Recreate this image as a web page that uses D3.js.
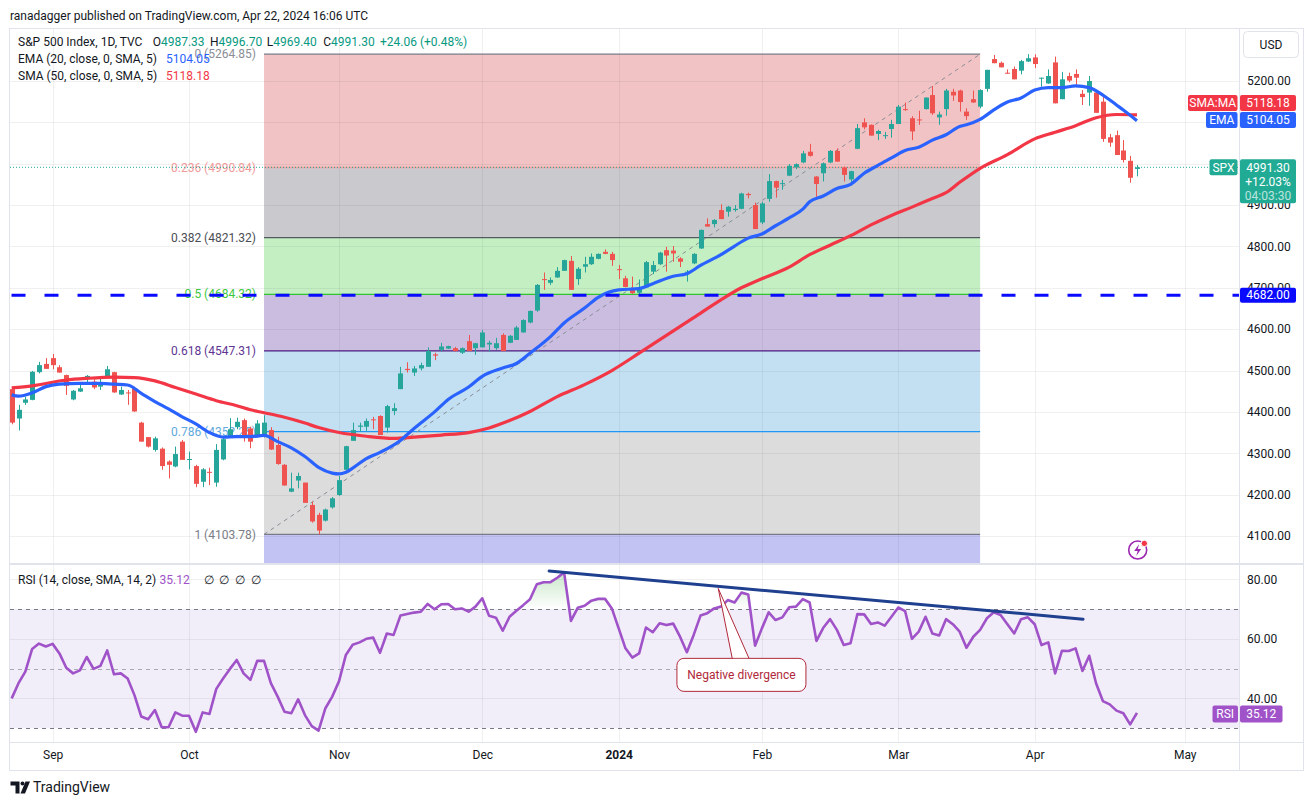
<!DOCTYPE html>
<html><head><meta charset="utf-8">
<script src="https://cdn.jsdelivr.net/npm/d3@7"></script>
<style>
body{margin:0;background:#fff;}
svg{display:block;font-family:Roboto,"Liberation Sans",sans-serif;}
</style>
</head><body>
<svg id="c" width="1313" height="805"></svg>
<script>
// ---------------- DATA ----------------
const opens = [4455,4384,4422,4429,4496,4516,4530,4508,4489,4430,
4449,4479,4473,4461,4484,4496,4442,4447,4457,4374,
4339,4308,4311,4280,4268,4328,4284,4269,4231,4255,
4229,4285,4340,4363,4380,4360,4340,4340,4356,4320,
4272,4207,4234,4229,4175,4151,4137,4169,4199,4260,
4330,4364,4364,4382,4390,4362,4402,4455,4504,4495,
4505,4509,4539,4550,4553,4554,4543,4571,4554,4556,
4563,4554,4586,4567,4574,4592,4616,4645,4721,4712,
4725,4741,4765,4721,4751,4757,4770,4787,4782,4745,
4723,4699,4688,4701,4739,4757,4791,4790,4771,4737,
4759,4795,4854,4854,4888,4884,4888,4891,4927,4900,
4858,4915,4958,4951,4971,4991,5003,5029,4969,4977,
5003,5031,4991,4962,5036,5100,5094,5072,5068,5084,
5096,5132,5110,5107,5132,5166,5112,5132,5174,5177,
5126,5156,5138,5181,5253,5244,5220,5229,5225,5247,
5257,5206,5194,5245,5156,5212,5217,5169,5172,5172,
5150,5064,5069,5032,5007,4987.33];
const highs = [4458,4417,4437,4499,4521,4530,4540,4513,4490,4453,
4469,4489,4479,4485,4511,4497,4461,4453,4461,4376,
4339,4340,4314,4283,4316,4332,4304,4272,4264,4265,
4322,4340,4385,4386,4384,4364,4380,4392,4363,4340,
4274,4253,4253,4229,4183,4156,4166,4194,4245,4318,
4374,4374,4384,4388,4392,4417,4421,4509,4520,4511,
4519,4556,4543,4567,4560,4557,4556,4586,4567,4598,
4572,4579,4590,4586,4608,4624,4645,4709,4737,4725,
4750,4768,4777,4750,4775,4783,4783,4793,4787,4755,
4729,4727,4720,4765,4765,4787,4799,4801,4774,4743,
4784,4841,4868,4866,4902,4898,4900,4930,4930,4906,
4908,4975,4959,4961,4999,5001,5031,5048,4970,5003,
5033,5037,4993,4983,5096,5110,5095,5082,5077,5106,
5142,5148,5115,5128,5160,5188,5126,5181,5181,5179,
5134,5177,5180,5227,5263,5247,5228,5235,5251,5264.85,
5264.5,5208,5228,5259,5222,5220,5228,5178,5212,5172,
5166,5072,5080,5057,5019,4996.70];
const lows = [4370,4355,4417,4428,4493,4504,4503,4495,4441,4428,
4448,4471,4455,4453,4483,4446,4441,4417,4400,4328,
4314,4304,4260,4239,4266,4284,4261,4218,4218,4223,
4219,4283,4338,4358,4328,4312,4338,4338,4308,4272,
4222,4206,4215,4180,4132,4103.78,4135,4166,4197,4259,
4330,4352,4354,4358,4344,4350,4392,4455,4495,4487,
4500,4509,4525,4546,4552,4546,4540,4547,4538,4556,
4546,4550,4547,4566,4574,4592,4614,4642,4695,4707,
4724,4741,4695,4707,4737,4755,4769,4781,4753,4721,
4701,4685,4685,4700,4733,4755,4739,4763,4750,4715,
4757,4794,4848,4846,4866,4872,4884,4890,4916,4842,
4854,4908,4918,4937,4970,4987,5001,5017,4920,4957,
5001,5005,4957,4947,5035,5083,5068,5057,5060,5063,
5096,5128,5057,5094,5131,5118,5094,5116,5152,5126,
5106,5147,5134,5174,5243,5233,5218,5204,5216,5246,
5231,5186,5193,5146,5156,5197,5185,5142,5140,5123,
5053,5041,5021,5003,4954,4969.40];
const closes = [4374,4405,4430,4497,4513,4504,4513,4495,4463,4451,
4457,4487,4459,4469,4503,4447,4453,4445,4401,4328,
4316,4336,4269,4272,4298,4284,4286,4226,4261,4254,
4308,4334,4358,4376,4344,4328,4372,4374,4309,4274,
4222,4215,4245,4180,4135,4113,4164,4191,4235,4317,
4356,4367,4378,4380,4344,4414,4409,4493,4501,4505,
4513,4547,4536,4558,4559,4547,4554,4547,4566,4592,
4567,4566,4547,4584,4604,4622,4644,4707,4719,4719,
4741,4767,4695,4746,4757,4775,4782,4782,4767,4743,
4702,4687,4699,4762,4755,4785,4778,4783,4763,4739,
4782,4840,4848,4864,4866,4896,4891,4928,4924,4842,
4904,4958,4942,4953,4995,4999,5025,5019,4951,5001,
5031,5005,4973,4982,5086,5088,5068,5079,5069,5096,
5138,5130,5078,5106,5160,5122,5119,5177,5165,5149,
5115,5148,5178,5227,5243,5233,5218,5204,5248,5255,
5241,5208,5212,5146,5204,5201,5208,5161,5200,5123,
5060,5051,5021,5009,4966,4991.30];

// EMA 20 / SMA 50 at sample bars
const emaBars   = [0,1,3,5,7,10,13,15,17,19,21,23,25,27,29,31,33,35,37,39,41,43,45,47,48,49,50,52,54,57,59,62,64,67,69,72,74,76,79,81,84,86,89,92,94,97,99,101,104,106,108,110,112,114,116,117,119,121,123,125,127,129,131,133,135,137,139,140,142,144,146,148,150,152,154,156,158,160,162,163,165];
const emaValues = [4441,4438,4446,4461,4467,4469,4469,4467,4465,4445,4425,4407,4388,4371,4350,4339,4340,4340,4343,4328,4313,4292,4266,4252,4250,4254,4264,4287,4302,4331,4360,4400,4430,4460,4486,4506,4517,4542,4582,4615,4651,4677,4695,4698,4710,4728,4734,4754,4780,4801,4820,4830,4850,4869,4890,4908,4922,4940,4950,4977,4996,5014,5032,5040,5057,5070,5090,5094,5107,5130,5149,5159,5178,5184,5184,5188,5184,5166,5142,5130,5104.05];
const smaBars   = [0,3,8,11,15,18,21,24,27,30,33,35,37,40,43,45,48,52,56,59,63,67,70,73,76,80,84,88,92,96,100,104,107,110,114,117,120,123,126,129,132,135,137,139,142,146,150,153,156,159,162,165];
const smaValues = [4458,4463,4477,4481,4484,4483,4475,4459,4443,4427,4415,4405,4398,4387,4373,4362,4350,4341,4336,4339,4344,4350,4361,4379,4401,4437,4466,4500,4542,4585,4628,4671,4700,4722,4750,4780,4803,4826,4852,4875,4895,4916,4930,4955,4989,5022,5060,5076,5092,5111,5119,5118.18];

const rsiValues = [40.0,45.1,49.0,56.6,58.4,57.4,58.3,55.1,50.3,48.4,
49.4,53.9,49.9,50.9,56.1,48.1,48.4,46.7,41.1,33.9,
33.0,36.1,30.3,30.3,35.3,34.2,34.2,28.8,35.3,34.8,
43.2,46.7,49.9,52.9,48.4,46.2,52.6,52.6,45.1,40.6,
35.5,35.0,39.7,34.4,30.7,29.2,36.7,40.6,45.8,54.6,
58.0,58.8,60.0,60.4,55.3,61.8,61.3,67.8,68.3,68.8,
69.1,71.7,69.9,71.6,71.7,69.9,70.2,69.1,70.8,73.6,
67.7,67.1,62.7,67.4,69.4,71.3,73.3,78.3,79.0,79.0,
80.5,82.3,66.0,70.4,71.1,72.8,73.4,73.4,70.2,63.5,
56.8,53.7,55.1,63.8,62.2,65.2,64.6,65.1,60.7,55.5,
61.3,67.8,68.6,70.2,70.8,73.0,72.2,75.5,74.9,57.7,
63.5,68.9,66.3,67.2,70.6,70.8,73.3,72.2,59.3,63.7,
66.6,63.0,57.9,58.5,68.3,68.2,65.0,65.5,64.4,67.4,
70.5,69.3,60.0,62.4,67.4,61.8,61.1,66.6,64.9,62.4,
57.0,60.7,63.0,66.9,68.9,68.0,64.9,61.8,66.6,67.2,
64.9,57.9,58.8,48.4,56.0,55.9,56.8,49.2,54.3,45.1,
39.1,38.0,35.9,35.0,31.3,35.12];

const monthLabels = ["Sep","Oct","Nov","Dec","2024","Feb","Mar","Apr","May"];
const monthBars   = [6,26,48,69,89,110,130,150,172];
const priceTicks  = [4100,4200,4300,4400,4500,4600,4700,4800,4900,5000,5100,5200];
const priceTickLabels = [4100,4200,4300,4400,4500,4600,4700,4800,4900,5200]; // 5000 & 5100 hidden behind tags in the reference
const rsiTicks    = [40,60,80];

const fibLevels   = [0,0.236,0.382,0.5,0.618,0.786,1,1.618];
const fibHigh = 5264.85, fibLow = 4103.78;
const fibBars = [37,142];
const keyLevel = 4682;
const lastPrice = 4991.30;
const rsiTrendBars = [78.8,157.1], rsiTrendValues = [82.75,66.6];
const calloutTip = [103.6,76.9], calloutCenter = [107,47.9];

// ---------------- STYLE ----------------
const UP="#26a69a", DN="#ef5350";
const fibFill = ["#f2c3c4","#cacace","#c3efc3","#cbbde0","#c3e0f2","#dcdcdd","#c2c2f3"];
const fibLine = ["#787b86","#f7a0a0","#555a60","#2fc42f","#4a1a7e","#2196f3","#787b86","#8080e0"];
const fibText = ["#8a8d96","#f09a9a","#4a4d55","#3cc83c","#5e3592","#5fa9dc","#7a7d86"];

const svg = d3.select("#c");
const defs = svg.append("defs");
const PL=10, PR=1239, MT=29, MB=563.5, RT=565, RB=742;

const x = d3.scaleLinear().domain([-0.249,179.96]).range([PL,PR]);
const y = d3.scaleLinear().domain([4033.4,5325.7]).range([MB,MT]);
const yr = d3.scaleLinear().domain([25.37,84.77]).range([RB,RT]);

defs.append("clipPath").attr("id","cm").append("rect").attr("x",PL).attr("y",MT).attr("width",PR-PL).attr("height",MB-MT);
defs.append("clipPath").attr("id","cr").append("rect").attr("x",PL).attr("y",RT).attr("width",PR-PL).attr("height",RB-RT);
defs.append("clipPath").attr("id","crUp").append("rect").attr("x",PL).attr("y",RT).attr("width",PR-PL).attr("height",yr(70)-RT);
defs.append("clipPath").attr("id","crDn").append("rect").attr("x",PL).attr("y",yr(30)).attr("width",PR-PL).attr("height",RB-yr(30));
const gUp = defs.append("linearGradient").attr("id","gUp").attr("gradientUnits","userSpaceOnUse")
  .attr("x1",0).attr("x2",0).attr("y1",yr(100)).attr("y2",yr(70));
gUp.append("stop").attr("offset",0).attr("stop-color","#4caf50").attr("stop-opacity",0.75);
gUp.append("stop").attr("offset",1).attr("stop-color","#4caf50").attr("stop-opacity",0);
const gDn = defs.append("linearGradient").attr("id","gDn").attr("gradientUnits","userSpaceOnUse")
  .attr("x1",0).attr("x2",0).attr("y1",yr(30)).attr("y2",yr(0));
gDn.append("stop").attr("offset",0).attr("stop-color","#f23645").attr("stop-opacity",0);
gDn.append("stop").attr("offset",1).attr("stop-color","#f23645").attr("stop-opacity",0.75);

// header
svg.append("text").attr("x",10).attr("y",19.5).attr("font-size",12).attr("fill","#131722")
  .text("ranadagger published on TradingView.com, Apr 22, 2024 16:06 UTC");

// ---------------- MAIN PANE ----------------
const gm = svg.append("g").attr("clip-path","url(#cm)");
const fibPrice = l => fibHigh - l*(fibHigh-fibLow);
const fx0 = x(fibBars[0]), fx1 = x(fibBars[1]);
for (let k=0;k<fibLevels.length-1;k++){
  const a=y(fibPrice(fibLevels[k])), b=y(fibPrice(fibLevels[k+1]));
  gm.append("rect").attr("x",fx0).attr("y",a).attr("width",fx1-fx0).attr("height",b-a).attr("fill",fibFill[k]);
}
const grid = gm.append("g").attr("stroke","rgba(42,46,57,0.07)").attr("stroke-width",1);
priceTicks.forEach(p=>grid.append("line").attr("x1",PL).attr("x2",PR).attr("y1",Math.round(y(p))+0.5).attr("y2",Math.round(y(p))+0.5));
monthBars.forEach(b=>grid.append("line").attr("x1",Math.round(x(b))+0.5).attr("x2",Math.round(x(b))+0.5).attr("y1",MT).attr("y2",MB));
fibLevels.forEach((l,k)=>{
  const yy = y(fibPrice(l));
  gm.append("line").attr("x1",fx0).attr("x2",fx1).attr("y1",yy).attr("y2",yy).attr("stroke",fibLine[k]).attr("stroke-width",1.3);
  if (k<fibText.length){
    gm.append("text").attr("x",fx0-8).attr("y",yy).attr("dy","0.35em").attr("text-anchor","end")
      .attr("font-size",12).attr("fill",fibText[k]).text(`${l} (${fibPrice(l).toFixed(2)})`);
  }
});
gm.append("line").attr("x1",fx0).attr("y1",y(fibLow)).attr("x2",fx1).attr("y2",y(fibHigh))
  .attr("stroke","#8a8d96").attr("stroke-width",1).attr("stroke-dasharray","4,4");
gm.append("line").attr("x1",PL).attr("x2",PR).attr("y1",y(lastPrice)).attr("y2",y(lastPrice))
  .attr("stroke","#22ab94").attr("stroke-width",1).attr("stroke-dasharray","1,2");

// candles
const idx = d3.range(closes.length);
const cg = gm.append("g");
idx.forEach(i=>{
  const col = closes[i]>=opens[i]?UP:DN;
  const cx = Math.round(x(i));
  cg.append("line").attr("x1",cx+0.5).attr("x2",cx+0.5).attr("y1",y(highs[i])).attr("y2",y(lows[i])).attr("stroke",col).attr("stroke-width",1);
  const t = y(Math.max(opens[i],closes[i])), b = y(Math.min(opens[i],closes[i]));
  cg.append("rect").attr("x",cx-2).attr("width",5).attr("y",t).attr("height",Math.max(1,b-t)).attr("fill",col);
});
const maLine = d3.line().curve(d3.curveMonotoneX);
gm.append("path").attr("d",maLine(smaBars.map((b,k)=>[x(b),y(smaValues[k])])))
  .attr("fill","none").attr("stroke","#f23645").attr("stroke-width",3.2).attr("stroke-linejoin","round");
gm.append("path").attr("d",maLine(emaBars.map((b,k)=>[x(b),y(emaValues[k])])))
  .attr("fill","none").attr("stroke","#2962ff").attr("stroke-width",3.2).attr("stroke-linejoin","round");
gm.append("line").attr("x1",PL+1.5).attr("x2",PR).attr("y1",y(keyLevel)).attr("y2",y(keyLevel))
  .attr("stroke","#0a0aff").attr("stroke-width",3).attr("stroke-dasharray","14,19");

// lightning icon
const li = svg.append("g").attr("transform","translate(1137.7,550)");
li.append("circle").attr("r",9).attr("fill","#fff").attr("stroke","#9c27b0").attr("stroke-width",1.6);
li.append("path").attr("d","M1.5,-6 L-3.5,1 L0,1 L-1.5,6 L3.5,-1 L0,-1 Z").attr("fill","#9c27b0");
li.append("circle").attr("cx",6.6).attr("cy",-6.6).attr("r",3.2).attr("fill","#f23645").attr("stroke","#fff").attr("stroke-width",1);

// legend
const lg = svg.append("g").attr("font-size",12).attr("fill","#131722");
lg.append("text").attr("x",18).attr("y",46).text("S&P 500 Index, 1D, TVC");
const ohlcKeys=["O","H","L","C"], ohlcVals=[opens[165],highs[165],lows[165],closes[165]], ohlcX=[152.7,210,266.7,323.3];
ohlcKeys.forEach((k,j)=>{
  const t = lg.append("text").attr("x",ohlcX[j]).attr("y",46);
  t.append("tspan").text(k);
  t.append("tspan").attr("fill","#089981").text(ohlcVals[j].toFixed(2));
});
lg.append("text").attr("x",380).attr("y",46).attr("fill","#089981").text("+24.06 (+0.48%)");
lg.append("text").attr("x",18).attr("y",63).text("EMA (20, close, 0, SMA, 5)");
lg.append("text").attr("x",166).attr("y",63).attr("fill","#2962ff").text(emaValues[emaValues.length-1].toFixed(2));
lg.append("text").attr("x",18).attr("y",80).text("SMA (50, close, 0, SMA, 5)");
lg.append("text").attr("x",166).attr("y",80).attr("fill","#f23645").text(smaValues[smaValues.length-1].toFixed(2));

// ---------------- RSI PANE ----------------
const gr = svg.append("g").attr("clip-path","url(#cr)");
gr.append("rect").attr("x",PL).attr("width",PR-PL).attr("y",yr(70)).attr("height",yr(30)-yr(70)).attr("fill","rgba(126,87,194,0.1)");
const rgrid = gr.append("g").attr("stroke","rgba(42,46,57,0.07)");
rsiTicks.forEach(v=>rgrid.append("line").attr("x1",PL).attr("x2",PR).attr("y1",Math.round(yr(v))+0.5).attr("y2",Math.round(yr(v))+0.5));
monthBars.forEach(b=>rgrid.append("line").attr("x1",Math.round(x(b))+0.5).attr("x2",Math.round(x(b))+0.5).attr("y1",RT).attr("y2",RB));
[[70,"#787b86"],[50,"#a8abb4"],[30,"#787b86"]].forEach(([v,c])=>{
  gr.append("line").attr("x1",PL).attr("x2",PR).attr("y1",Math.round(yr(v))+0.5).attr("y2",Math.round(yr(v))+0.5)
    .attr("stroke",c).attr("stroke-dasharray","4,4");
});
const rArea = base => d3.area().x((d,i)=>x(i)).y0(yr(base)).y1(d=>yr(d));
gr.append("path").attr("d",rArea(70)(rsiValues)).attr("fill","url(#gUp)").attr("clip-path","url(#crUp)");
gr.append("path").attr("d",rArea(30)(rsiValues)).attr("fill","url(#gDn)").attr("clip-path","url(#crDn)");
gr.append("path").attr("d",d3.line().x((d,i)=>x(i)).y(d=>yr(d))(rsiValues))
  .attr("fill","none").attr("stroke","#a052c8").attr("stroke-width",2.6).attr("stroke-linejoin","round");
gr.append("line").attr("x1",x(rsiTrendBars[0])).attr("y1",yr(rsiTrendValues[0]))
  .attr("x2",x(rsiTrendBars[1])).attr("y2",yr(rsiTrendValues[1]))
  .attr("stroke","#1f3f8f").attr("stroke-width",3).attr("stroke-linecap","round");
const tipX=x(calloutTip[0]), tipY=yr(calloutTip[1]);
const ccx=x(calloutCenter[0]), ccy=yr(calloutCenter[1]), cw=129, ch=33;
gr.append("path").attr("d",`M${tipX},${tipY} L${ccx-9},${ccy-ch/2+1} L${ccx+8},${ccy-ch/2+1} Z`)
  .attr("fill","#fff").attr("stroke","#b0283a").attr("stroke-width",1);
gr.append("rect").attr("x",ccx-cw/2).attr("y",ccy-ch/2).attr("width",cw).attr("height",ch).attr("rx",7)
  .attr("fill","#fff").attr("stroke","#b0283a").attr("stroke-width",1);
gr.append("path").attr("d",`M${ccx-8},${ccy-ch/2+1.5} L${ccx+7},${ccy-ch/2+1.5}`).attr("stroke","#fff").attr("stroke-width",2);
gr.append("text").attr("x",ccx).attr("y",ccy).attr("dy","0.35em").attr("text-anchor","middle")
  .attr("font-size",12).attr("fill","#b0283a").text("Negative divergence");

const rl = svg.append("g").attr("font-size",12);
rl.append("text").attr("x",18).attr("y",584).attr("fill","#131722").text("RSI (14, close, SMA, 14, 2)");
rl.append("text").attr("x",159.5).attr("y",584).attr("fill","#a052c8").text(rsiValues[rsiValues.length-1].toFixed(2));
[203.6,219.4,235.2,251].forEach(px=>rl.append("text").attr("x",px).attr("y",584).attr("fill","#131722").text("\u2205"));

// ---------------- FRAME & AXES ----------------
const fr = svg.append("g").attr("stroke","#e0e3eb").attr("fill","none");
fr.append("rect").attr("x",9.5).attr("y",28.5).attr("width",1294).attr("height",742);
fr.append("line").attr("x1",PR+0.5).attr("x2",PR+0.5).attr("y1",28.5).attr("y2",770.5);
fr.append("line").attr("x1",9.5).attr("x2",1303.5).attr("y1",564).attr("y2",564).attr("stroke-width",2);
fr.append("line").attr("x1",9.5).attr("x2",1303.5).attr("y1",742.5).attr("y2",742.5);

const styleAxis = g => { g.select(".domain").remove(); g.selectAll("text").attr("fill","#131722").attr("font-size",12).attr("font-family","Roboto,'Liberation Sans',sans-serif"); };
svg.append("g").attr("transform",`translate(${PR},0)`)
  .call(d3.axisRight(y).tickValues(priceTickLabels).tickFormat(d3.format(".2f")).tickSize(0).tickPadding(8)).call(styleAxis);
svg.append("g").attr("transform",`translate(${PR},0)`)
  .call(d3.axisRight(yr).tickValues(rsiTicks).tickFormat(d3.format(".2f")).tickSize(0).tickPadding(8)).call(styleAxis);
const xa = svg.append("g").attr("transform",`translate(0,${RB})`)
  .call(d3.axisBottom(x).tickValues(monthBars).tickFormat((d,i)=>monthLabels[i]).tickSize(0).tickPadding(8)).call(styleAxis);
xa.selectAll("text").filter(d=>d===89).attr("font-weight","bold");

svg.append("rect").attr("x",1243.5).attr("y",31.5).attr("width",55).attr("height",26).attr("rx",4).attr("fill","#fff").attr("stroke","#e0e3eb");
svg.append("text").attr("x",1271).attr("y",44.5).attr("dy","0.35em").attr("text-anchor","middle").attr("font-size",12).attr("fill","#131722").text("USD");

function tag(xl, w, yc, h, fill, txt){
  svg.append("rect").attr("x",xl).attr("y",yc-h/2).attr("width",w).attr("height",h).attr("rx",2).attr("fill",fill);
  svg.append("text").attr("x",xl+w/2).attr("y",yc).attr("dy","0.35em").attr("text-anchor","middle").attr("font-size",12).attr("fill","#fff").text(txt);
}
tag(1188,49.5,103,16,"#f23645","SMA:MA");
tag(1240,56,103,16,"#f23645",smaValues[smaValues.length-1].toFixed(2));
tag(1206,31.5,120,16,"#2962ff","EMA");
tag(1240,56,120,16,"#2962ff",emaValues[emaValues.length-1].toFixed(2));
tag(1209.5,28,y(lastPrice),16,"#22ab94","SPX");
svg.append("rect").attr("x",1240).attr("y",y(lastPrice)-8).attr("width",56).attr("height",44).attr("rx",2).attr("fill","#22ab94");
svg.append("text").attr("x",1268).attr("y",y(lastPrice)).attr("dy","0.35em").attr("text-anchor","middle").attr("font-size",12).attr("fill","#fff").text(lastPrice.toFixed(2));
svg.append("text").attr("x",1268).attr("y",y(lastPrice)+14).attr("dy","0.35em").attr("text-anchor","middle").attr("font-size",12).attr("fill","#fff").text("+12.03%");
svg.append("text").attr("x",1268).attr("y",y(lastPrice)+28).attr("dy","0.35em").attr("text-anchor","middle").attr("font-size",12).attr("fill","rgba(255,255,255,0.7)").text("04:03:30");
tag(1240,56,y(keyLevel),15,"#0a0aff",keyLevel.toFixed(2));
const rsiLast = rsiValues[rsiValues.length-1];
tag(1212.5,25.5,yr(rsiLast)+1,17,"#a052c8","RSI");
tag(1240,42.5,yr(rsiLast)+1,17,"#a052c8",rsiLast.toFixed(2));

const ft = svg.append("g").attr("fill","#131722");
ft.append("path").attr("d","M10.5,781.5 H19.5 V793.5 H15.5 V785.5 H10.5 Z");
ft.append("circle").attr("cx",22.5).attr("cy",783.5).attr("r",2);
ft.append("path").attr("d","M25.5,781.5 H30 L25,793.5 H20.5 Z");
ft.append("text").attr("x",33).attr("y",792).attr("font-size",14).text("TradingView");
</script>
</body></html>
